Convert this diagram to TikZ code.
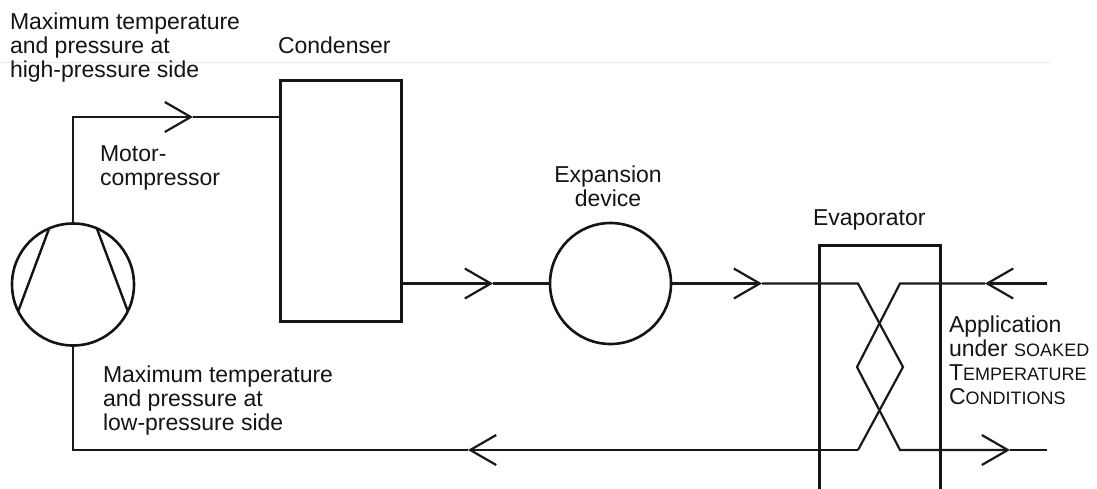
\documentclass[tikz,border=0pt]{standalone}
\usepackage{fontspec}
\setmainfont{Liberation Sans}
\usetikzlibrary{arrows.meta}
\newcommand{\fsc}[2]{#1{\fontsize{18}{24}\selectfont #2}}
\begin{document}
\begin{tikzpicture}[x=1pt,y=-1pt,
  every node/.style={inner sep=0pt, outer sep=0pt},
  labeltext/.style={font=\fontsize{23}{24}\selectfont, text=black!92, align=left},
  pipeline/.style={line width=2.2pt, line join=miter, draw=black!90},
  flowarrow/.style={pipeline, -{Straight Barb[length=26pt,width=30pt]}},
  unitbox/.style={draw=black!92, line width=3.8pt},
  vessel/.style={draw=black!92, circle, line width=2.6pt},
  vesselline/.style={line width=2.4pt, draw=black!92},
]
\useasboundingbox (0,0) rectangle (1097,488);
\clip (0,0) rectangle (1097,488);
\draw[gray!18, line width=0.8pt] (0,62) -- (1050,62);

% components
\node[vessel, minimum size=122pt] (comp) at (73,284.5) {};
\draw[vesselline] (comp.113) -- (comp.206);
\draw[vesselline] (comp.67) -- (comp.334);
\node[unitbox, minimum width=121pt, minimum height=241pt] (cond) at (341,201) {};
\node[vessel, minimum size=121pt] (exp) at (610.5,283.5) {};
\node[unitbox, minimum width=121pt, minimum height=275pt] (evap) at (880,383) {};

% high-pressure line
\coordinate (hiL) at (comp.north |- 0,117);
\coordinate (hiR) at (cond.west |- 0,117);
\coordinate (tip1) at (193,117);
\draw[flowarrow] (comp.north) -- (hiL) -- (tip1);
\draw[pipeline] (tip1) -- (hiR);

% condenser -> expansion -> evaporator
\coordinate (condOut) at (cond.east |- 0,283.5);
\coordinate (tip2) at (493,283.5);
\draw[flowarrow] (condOut) -- (tip2);
\draw[pipeline] (tip2) -- (exp.west);
\coordinate (tip3) at (762,283.5);
\draw[flowarrow] (exp.east) -- (tip3);
\coordinate (eTL) at (858,283.5);
\coordinate (eR) at (903,367);
\coordinate (eBL) at (858,450);
\draw[pipeline] (tip3) -- (eTL) -- (eR) -- (eBL);
\coordinate (tip4) at (468,450);
\draw[flowarrow] (eBL) -- (tip4);
\coordinate (loL) at (comp.south |- 0,450);
\draw[pipeline] (tip4) -- (loL) -- (comp.south);

% application side
\coordinate (airIn) at (1047,283.5);
\coordinate (tip5) at (985,283.5);
\coordinate (aTR) at (900,283.5);
\coordinate (aL) at (857,367);
\coordinate (aBR) at (900,450);
\coordinate (tip6) at (1010,450);
\coordinate (airOut) at (1047,450);
\draw[flowarrow] (airIn) -- (tip5);
\draw[flowarrow] (tip5) -- (aTR) -- (aL) -- (aBR) -- (tip6);
\draw[pipeline] (tip6) -- (airOut);

% labels
\node[labeltext, anchor=north west] (hiText) at (10,12.5) {Maximum temperature\\and pressure at\\high-pressure side};
\node[labeltext, anchor=base west] (condText) at (278,53) {Condenser};
\node[labeltext, anchor=north west] (compText) at (100,145.5) {Motor-\\compressor};
\node[labeltext, align=center, anchor=north] (expText) at (608,165.5) {Expansion\\device};
\node[labeltext, anchor=base west] (evapText) at (813,225) {Evaporator};
\node[labeltext, anchor=north west] (loText) at (103,365.5) {Maximum temperature\\and pressure at\\low-pressure side};
\node[labeltext, anchor=north west] (appText) at (949,315.5) {Application\\under \fsc{}{SOAKED}\\\fsc{T}{EMPERATURE}\\\fsc{C}{ONDITIONS}};
\end{tikzpicture}
\end{document}
